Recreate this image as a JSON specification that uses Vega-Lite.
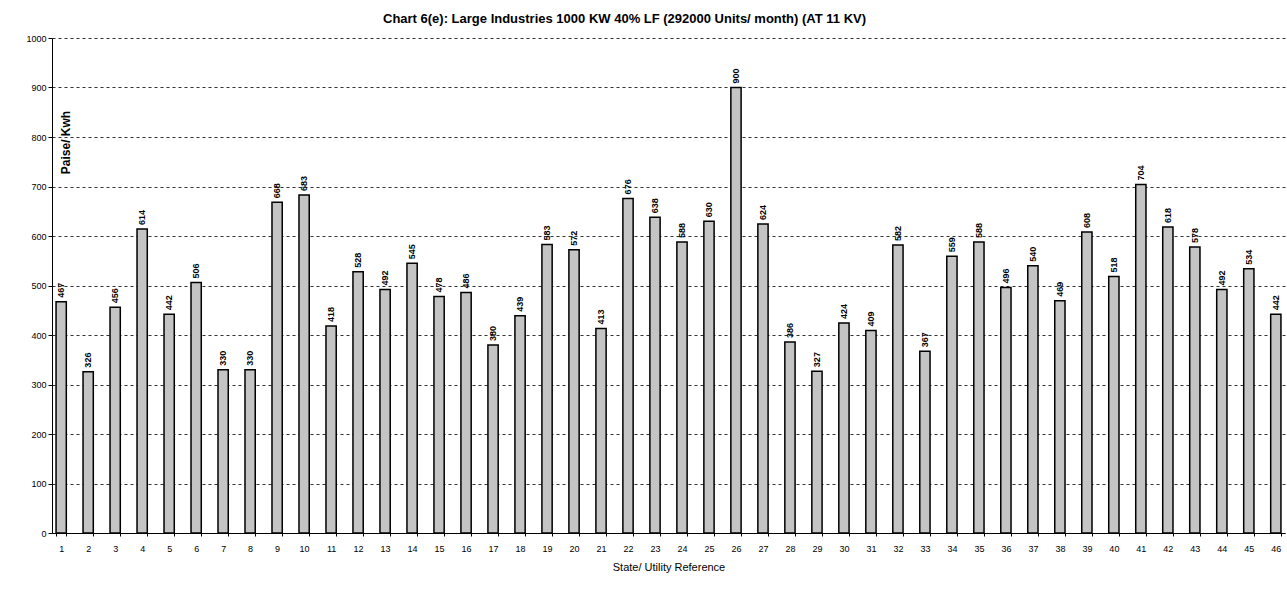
{
  "$schema": "https://vega.github.io/schema/vega-lite/v6.json",
  "width": 1233,
  "height": 495,
  "padding": {"left": 52, "top": 38, "right": 2, "bottom": 60},
  "autosize": {"type": "none"},
  "background": "white",
  "config": {
    "font": "Liberation Sans",
    "view": {"stroke": null}
  },
  "title": {
    "text": "Chart 6(e): Large Industries 1000 KW  40% LF (292000 Units/ month) (AT 11 KV)",
    "anchor": "start",
    "frame": "group",
    "dx": 331,
    "offset": -5,
    "fontSize": 13,
    "fontWeight": "bold",
    "color": "black",
    "font": "Liberation Sans",
    "baseline": "bottom"
  },
  "data": {
    "values": [
      {"ref": "1", "value": 467}, {"ref": "2", "value": 326}, {"ref": "3", "value": 456},
      {"ref": "4", "value": 614}, {"ref": "5", "value": 442}, {"ref": "6", "value": 506},
      {"ref": "7", "value": 330}, {"ref": "8", "value": 330}, {"ref": "9", "value": 668},
      {"ref": "10", "value": 683}, {"ref": "11", "value": 418}, {"ref": "12", "value": 528},
      {"ref": "13", "value": 492}, {"ref": "14", "value": 545}, {"ref": "15", "value": 478},
      {"ref": "16", "value": 486}, {"ref": "17", "value": 380}, {"ref": "18", "value": 439},
      {"ref": "19", "value": 583}, {"ref": "20", "value": 572}, {"ref": "21", "value": 413},
      {"ref": "22", "value": 676}, {"ref": "23", "value": 638}, {"ref": "24", "value": 588},
      {"ref": "25", "value": 630}, {"ref": "26", "value": 900}, {"ref": "27", "value": 624},
      {"ref": "28", "value": 386}, {"ref": "29", "value": 327}, {"ref": "30", "value": 424},
      {"ref": "31", "value": 409}, {"ref": "32", "value": 582}, {"ref": "33", "value": 367},
      {"ref": "34", "value": 559}, {"ref": "35", "value": 588}, {"ref": "36", "value": 496},
      {"ref": "37", "value": 540}, {"ref": "38", "value": 469}, {"ref": "39", "value": 608},
      {"ref": "40", "value": 518}, {"ref": "41", "value": 704}, {"ref": "42", "value": 618},
      {"ref": "43", "value": 578}, {"ref": "44", "value": 492}, {"ref": "45", "value": 534},
      {"ref": "46", "value": 442}
    ]
  },
  "encoding": {
    "x": {
      "field": "ref",
      "type": "ordinal",
      "sort": null,
      "scale": {"paddingInner": 0.62, "paddingOuter": 0.15},
      "axis": {
        "title": "State/ Utility Reference",
        "titleFontSize": 11,
        "titleFontWeight": "normal",
        "titleColor": "black",
        "titlePadding": 8,
        "labelAngle": 0,
        "labelFontSize": 9,
        "labelColor": "black",
        "labelPadding": 8,
        "domainColor": "black",
        "tickColor": "black",
        "tickSize": 3,
        "tickBand": "extent"
      }
    },
    "y": {
      "field": "value",
      "type": "quantitative",
      "scale": {"domain": [0, 1000], "nice": false},
      "axis": {
        "values": [0, 100, 200, 300, 400, 500, 600, 700, 800, 900, 1000],
        "format": "d",
        "title": "Paise/ Kwh",
        "titleFontSize": 12,
        "titleFontWeight": "bold",
        "titleColor": "black",
        "titleAngle": -90,
        "titleX": 13,
        "titleY": 104,
        "titleAlign": "center",
        "titleBaseline": "middle",
        "labelFontSize": 9,
        "labelColor": "black",
        "domainColor": "black",
        "tickColor": "black",
        "tickSize": 4,
        "grid": true,
        "gridColor": "black",
        "gridDash": [3, 3],
        "gridWidth": 1,
        "gridOpacity": 0.8
      }
    }
  },
  "layer": [
    {
      "mark": {"type": "bar", "fill": "#c4c4c4", "stroke": "black", "strokeWidth": 1.5}
    },
    {
      "mark": {
        "type": "text",
        "angle": 270,
        "align": "left",
        "baseline": "middle",
        "dx": 4,
        "fontSize": 9,
        "fontWeight": "bold",
        "fill": "black"
      },
      "encoding": {"text": {"field": "value", "type": "quantitative"}}
    }
  ]
}
